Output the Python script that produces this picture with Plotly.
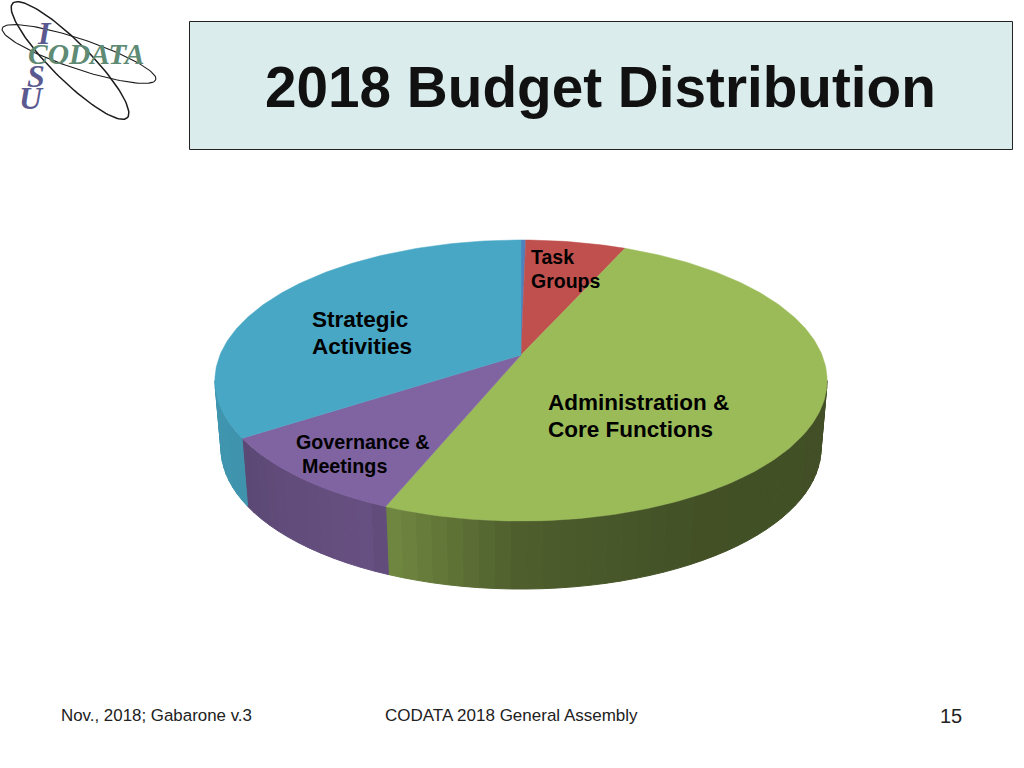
import numpy as np
import plotly.graph_objects as go

# ---- data (percent shares, clockwise from 12 o'clock) ----
categories = ["Other", "Task Groups", "Administration & Core Functions", "Governance & Meetings", "Strategic Activities"]
values = [0.3, 6.3, 49.5, 9.6, 34.3]
top_colors = ["#4f81bd", "#c0504d", "#9bbb59", "#8064a2", "#47a7c4"]

# ---- pie projection ----
CX, APEX_Y, RX, RY, PERSP = 521.0, 355.0, 301.0, 135.9, 0.1815
DEPTH, WALL_SCALE = 68.0, 0.98
SHADE_ANGLE = [90, 150, 180, 201, 206, 236, 236.5, 270]
SHADE_VALUE = [0.42, 0.43, 0.50, 0.72, 0.80, 0.72, 0.88, 0.90]


def rim(theta):
    k = 1 + PERSP * np.cos(theta)
    return CX + RX * np.sin(theta) / k, APEX_Y - RY * np.cos(theta) / k


def shade(hex_color, f):
    r, g, b = (int(hex_color[i:i + 2], 16) for i in (1, 3, 5))
    return f"rgb({r * f:.0f},{g * f:.0f},{b * f:.0f})"


fig = go.Figure()
edges = np.radians(np.concatenate([[0], np.cumsum(values)]) * 3.6 * 100 / sum(values))
wall_min, wall_max = np.radians(100.5), np.radians(259.5)

# side wall, drawn as short strips so its shading can change along the rim
for i, color in enumerate(top_colors):
    a0, a1 = max(edges[i], wall_min), min(edges[i + 1], wall_max)
    if a1 <= a0:
        continue
    n = max(2, int(np.degrees(a1 - a0) / 2.5))
    steps = np.linspace(a0, a1, n + 1)
    for s0, s1 in zip(steps[:-1], steps[1:]):
        t = np.linspace(s0, s1, 5)
        x, y = rim(t)
        xb = CX + (x - CX) * WALL_SCALE
        yb = y + DEPTH
        col = shade(color, float(np.interp(np.degrees((s0 + s1) / 2), SHADE_ANGLE, SHADE_VALUE)))
        fig.add_trace(go.Scatter(
            x=np.concatenate([x, xb[::-1], x[:1]]), y=np.concatenate([y, yb[::-1], y[:1]]),
            mode="lines", fill="toself", fillcolor=col, line=dict(color=col, width=1.0),
            hoverinfo="skip", showlegend=False))

# top face
for i, (name, color) in enumerate(zip(categories, top_colors)):
    t = np.linspace(edges[i], edges[i + 1], max(3, int(values[i] * 4)))
    x, y = rim(t)
    fig.add_trace(go.Scatter(
        x=np.concatenate([[CX], x, [CX]]), y=np.concatenate([[APEX_Y], y, [APEX_Y]]),
        mode="lines", fill="toself", fillcolor=color, line=dict(color=color, width=0.5),
        name=name, text=f"{name}: {values[i]}%", hoverinfo="text", showlegend=False))


# logo orbits
def orbit(cx, cy, a, b, deg):
    t = np.linspace(0, 2 * np.pi, 120)
    r = np.radians(deg)
    return (cx + a * np.cos(t) * np.cos(r) - b * np.sin(t) * np.sin(r),
            cy + a * np.cos(t) * np.sin(r) + b * np.sin(t) * np.cos(r))


for p, w in (((79, 54, 81, 15, 18.5), 1.1), ((70, 60.5, 81, 19, 45), 1.5)):
    ox, oy = orbit(*p)
    fig.add_trace(go.Scatter(x=ox, y=oy, mode="lines", line=dict(color="#1c1c1c", width=w),
                             hoverinfo="skip", showlegend=False))

shapes = [dict(type="rect", x0=189.5, y0=21.5, x1=1012.5, y1=149.5,
               fillcolor="#daecec", line=dict(color="#222222", width=1), layer="below")]


def label(x, y, text, size, anchor="left", color="#000000", family="Liberation Sans", weight="bold", style="normal"):
    return dict(x=x, y=y, text=text, xref="x", yref="y", xanchor=anchor, yanchor="middle", showarrow=False,
                font=dict(family=family, size=size, color=color, weight=weight, style=style))


annotations = [
    label(600.5, 87, "2018 Budget Distribution", 56.7, "center", "#111111"),
    label(528.5, 257, "Task", 19.5), label(528.5, 281, "Groups", 19.5),
    label(309.5, 319, "Strategic", 22.5), label(309.5, 346, "Activities", 22.5),
    label(545.5, 402, "Administration &", 22.5), label(545.5, 429, "Core Functions", 22.5),
    label(293.5, 442, "Governance &", 19.7), label(299.5, 466, "Meetings", 19.7),
    label(59, 715, "Nov., 2018; Gabarone v.3", 16.9, color="#222222", weight="normal"),
    label(383, 715, "CODATA 2018 General Assembly", 17, color="#222222", weight="normal"),
    label(951, 716, "15", 20, "center", "#222222", weight="normal"),
    label(44, 33, "I", 32, "center", "#5b5a90", "Liberation Serif", "bold", "italic"),
    label(86, 54, "CODATA", 29.5, "center", "#5f8a74", "Liberation Serif", "bold", "italic"),
    label(36, 76, "S", 32, "center", "#5b5a90", "Liberation Serif", "bold", "italic"),
    label(31, 98, "U", 32, "center", "#5b5a90", "Liberation Serif", "bold", "italic"),
]

fig.update_layout(
    width=1024, height=768, margin=dict(l=0, r=0, t=0, b=0),
    paper_bgcolor="#ffffff", plot_bgcolor="#ffffff", showlegend=False,
    xaxis=dict(range=[0, 1024], visible=False, fixedrange=True),
    yaxis=dict(range=[768, 0], visible=False, fixedrange=True),
    shapes=shapes, annotations=annotations,
)
fig.write_html("out.html", config={"displayModeBar": False},
               post_script="document.body.style.margin='0';document.body.style.overflow='hidden';")
